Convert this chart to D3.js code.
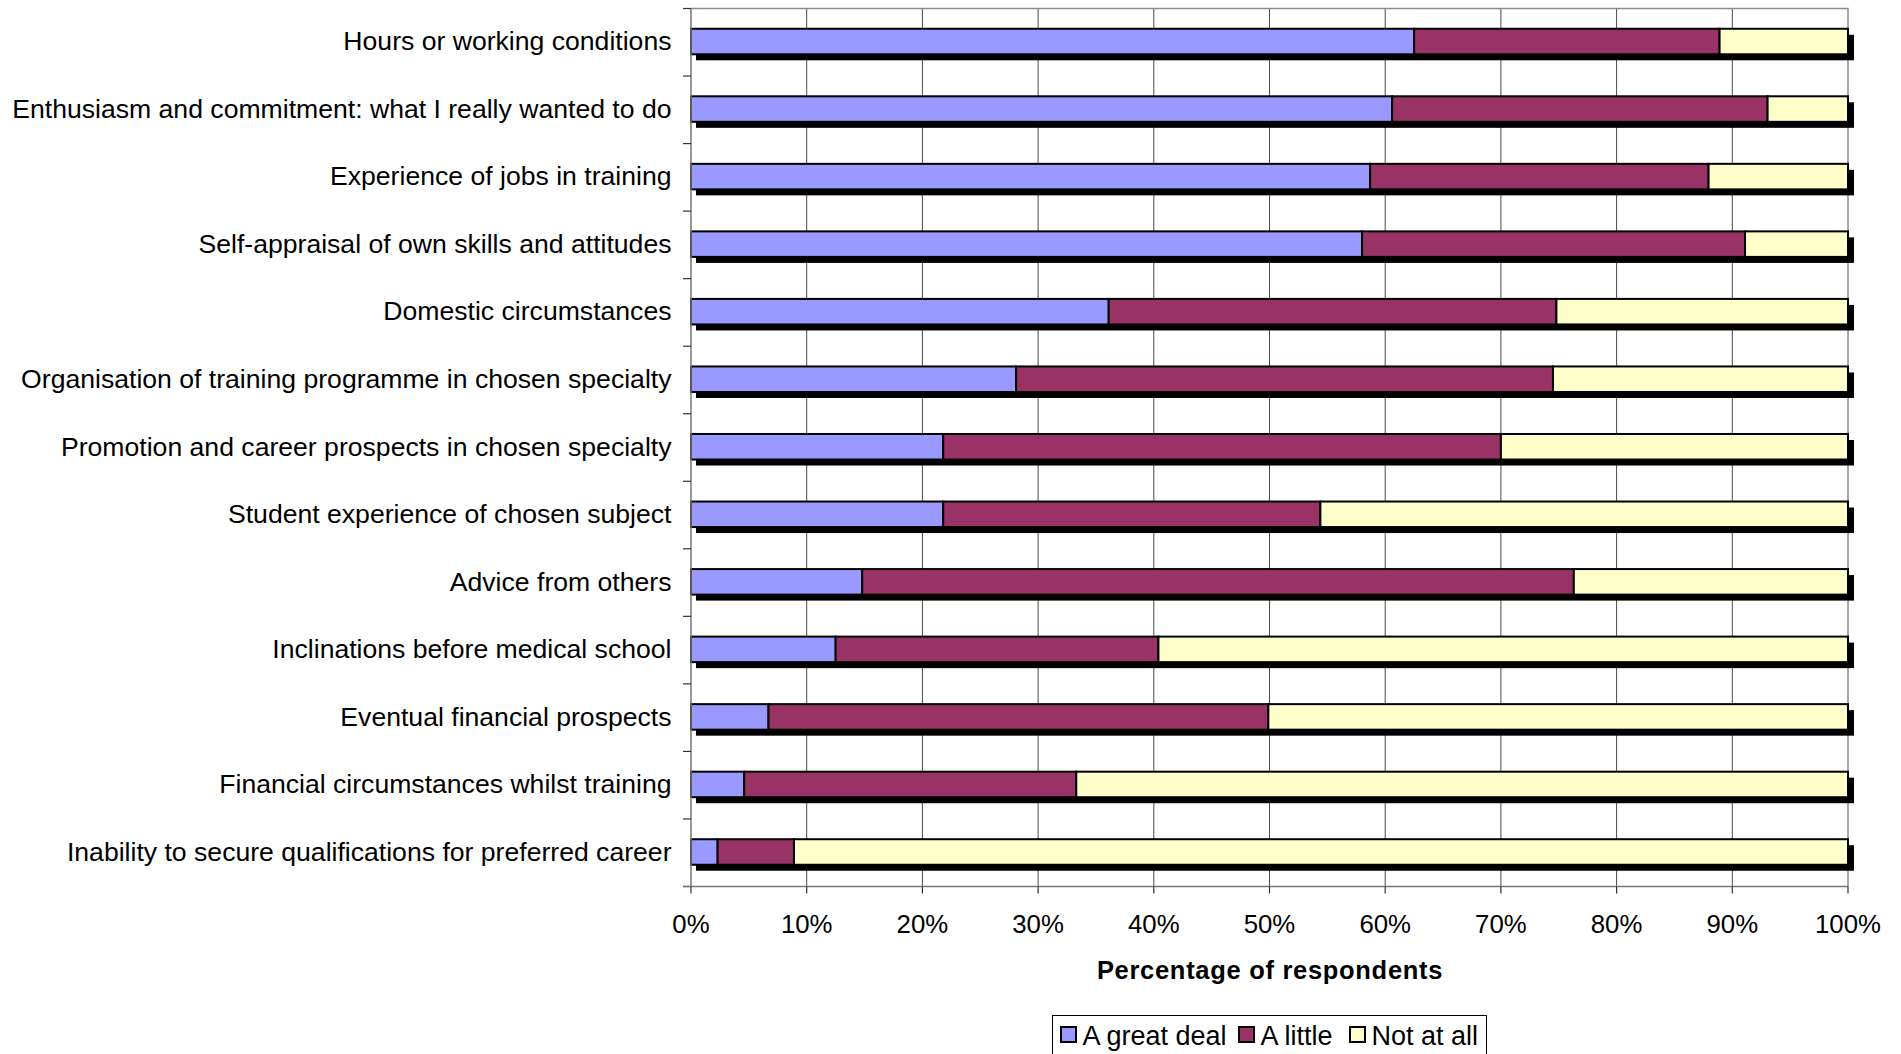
<!DOCTYPE html>
<html>
<head>
<meta charset="utf-8">
<script src="https://cdn.jsdelivr.net/npm/d3@7"></script>
<style>
  html, body { margin: 0; padding: 0; background: #ffffff; }
  svg { display: block; }
  text { font-family: "Liberation Sans", Arial, sans-serif; fill: #000; }
</style>
</head>
<body>
<svg id="chart" width="1901" height="1054"></svg>
<script>
const categories = [
  "Hours or working conditions",
  "Enthusiasm and commitment: what I really wanted to do",
  "Experience of jobs in training",
  "Self-appraisal of own skills and attitudes",
  "Domestic circumstances",
  "Organisation of training programme in chosen specialty",
  "Promotion and career prospects in chosen specialty",
  "Student experience of chosen subject",
  "Advice from others",
  "Inclinations before medical school",
  "Eventual financial prospects",
  "Financial circumstances whilst training",
  "Inability to secure qualifications for preferred career"
];
const seriesNames = ["A great deal", "A little", "Not at all"];
const aGreatDeal = [62.5, 60.6, 58.7, 58.0, 36.1, 28.1, 21.8, 21.8, 14.8, 12.5, 6.7, 4.6, 2.3];
const aLittle    = [26.4, 32.45, 29.25, 33.1, 38.7, 46.4, 48.2, 32.6, 61.5, 27.9, 43.2, 28.7, 6.6];
const notAtAll   = [11.1, 6.95, 12.05, 8.9, 25.2, 25.5, 30.0, 45.6, 23.7, 59.6, 50.1, 66.7, 91.1];
const xTicks = [0, 10, 20, 30, 40, 50, 60, 70, 80, 90, 100];
const xTickLabels = ["0%", "10%", "20%", "30%", "40%", "50%", "60%", "70%", "80%", "90%", "100%"];
const colors = ["#9999FF", "#993366", "#FFFFCC"];
const xTitle = "Percentage of respondents";

const svg = d3.select("#chart");
const plot = { left: 691, right: 1848, top: 8.5, bottom: 886.5 };

const x = d3.scaleLinear().domain([0, 100]).range([plot.left, plot.right]);
const y = d3.scaleBand().domain(categories).range([plot.top, plot.bottom]).padding(0);
const step = y.step();
const barOff = step * 0.30, barH = step * 0.378;

const table = categories.map((c, i) => ({ cat: c, v0: aGreatDeal[i], v1: aLittle[i], v2: notAtAll[i] }));
const stack = d3.stack().keys(["v0", "v1", "v2"]);
const layers = stack(table);

// gridlines
svg.append("g").selectAll("line").data(xTicks.slice(1, -1)).join("line")
  .attr("x1", d => x(d)).attr("x2", d => x(d))
  .attr("y1", plot.top).attr("y2", plot.bottom)
  .attr("stroke", "#4a4a4a").attr("stroke-width", 1);

// plot border top/right
svg.append("path")
  .attr("d", `M${plot.left},${plot.top}H${plot.right}V${plot.bottom}`)
  .attr("fill", "none").attr("stroke", "#8c8c8c").attr("stroke-width", 1.5);

// shadows
svg.append("g").selectAll("rect").data(table).join("rect")
  .attr("x", x(0) + 5)
  .attr("y", d => y(d.cat) + barOff + 6)
  .attr("width", x(100) - x(0) + 1)
  .attr("height", barH)
  .attr("fill", "#000");

// bars
svg.append("g").selectAll("g").data(layers).join("g")
  .attr("fill", (d, i) => colors[i])
  .selectAll("rect").data(d => d).join("rect")
  .attr("x", d => x(d[0]))
  .attr("y", d => y(d.data.cat) + barOff)
  .attr("width", d => x(d[1]) - x(d[0]))
  .attr("height", barH)
  .attr("stroke", "#000").attr("stroke-width", 2);

// y axis
const yAxisG = svg.append("g");
yAxisG.append("line").attr("x1", plot.left).attr("x2", plot.left)
  .attr("y1", plot.top).attr("y2", plot.bottom).attr("stroke", "#777").attr("stroke-width", 1.5);
const bounds = categories.map(c => y(c)).concat([plot.bottom]);
yAxisG.selectAll("line.tk").data(bounds).join("line").attr("class", "tk")
  .attr("x1", plot.left - 8).attr("x2", plot.left)
  .attr("y1", d => d).attr("y2", d => d).attr("stroke", "#333").attr("stroke-width", 1.2);
yAxisG.selectAll("text").data(categories).join("text")
  .attr("x", 671.5)
  .attr("y", d => y(d) + step / 2 + 8)
  .attr("text-anchor", "end")
  .style("font-size", "26.6px")
  .text(d => d);

// x axis
const xAxisG = svg.append("g");
xAxisG.append("line").attr("x1", plot.left - 8).attr("x2", plot.right)
  .attr("y1", plot.bottom).attr("y2", plot.bottom).attr("stroke", "#777").attr("stroke-width", 1.5);
xAxisG.selectAll("line.tk").data(xTicks).join("line").attr("class", "tk")
  .attr("x1", d => x(d)).attr("x2", d => x(d))
  .attr("y1", plot.bottom).attr("y2", plot.bottom + 7).attr("stroke", "#333").attr("stroke-width", 1.2);
xAxisG.selectAll("text").data(xTicks).join("text")
  .attr("x", d => x(d)).attr("y", 933.3)
  .attr("text-anchor", "middle")
  .style("font-size", "25.8px")
  .text((d, i) => xTickLabels[i]);

svg.append("text")
  .attr("x", 1270).attr("y", 979)
  .attr("text-anchor", "middle")
  .style("font-size", "25.5px").style("font-weight", "bold")
  .style("letter-spacing", "0.7px")
  .text(xTitle);

// legend
const lg = svg.append("g");
lg.append("rect").attr("x", 1052.5).attr("y", 1015.5).attr("width", 434).attr("height", 60)
  .attr("fill", "#fff").attr("stroke", "#000").attr("stroke-width", 1);
const legX = [1061, 1239, 1350];
const items = lg.selectAll("g").data(seriesNames).join("g")
  .attr("transform", (d, i) => `translate(${legX[i]},1027)`);
items.append("rect").attr("width", 15).attr("height", 15)
  .attr("fill", (d, i) => colors[i]).attr("stroke", "#000").attr("stroke-width", 2);
items.append("text").attr("x", 21.5).attr("y", 17.5)
  .style("font-size", "27px").text(d => d);
</script>
</body>
</html>
